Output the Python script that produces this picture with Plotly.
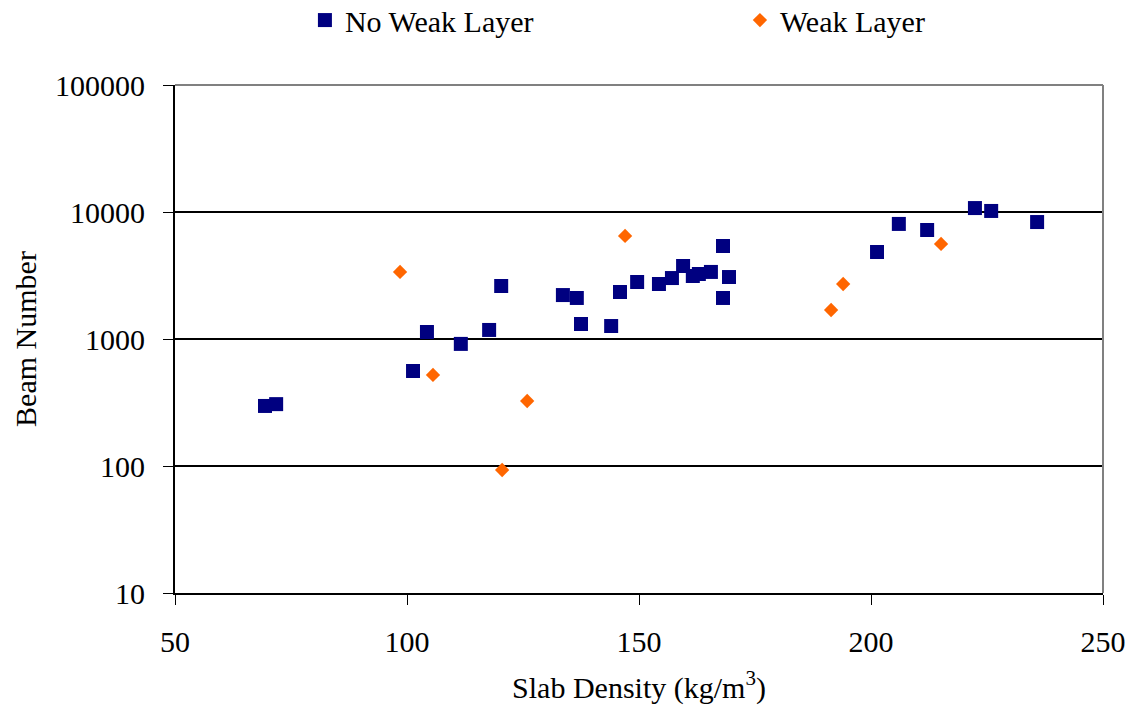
import plotly.graph_objects as go

# No Weak Layer series
nwl_density = [69.4, 71.8, 104.3, 101.3, 111.6, 117.7, 120.3, 133.6, 136.6, 137.5,
               144.0, 145.9, 149.6, 154.3, 157.1, 159.5, 161.6, 162.9, 165.5, 168.1,
               168.1, 169.4, 201.3, 206.0, 212.1, 222.4, 225.9, 235.8]
nwl_beam = [297, 307, 1135, 560, 915, 1178, 2614, 2218, 2104, 1312,
            1265, 2344, 2812, 2711, 3020, 3758, 3133, 3250, 3373, 5398,
            2104, 3076, 4844, 8055, 7218, 10740, 10190, 8336]

# Weak Layer series
wl_density = [98.5, 105.6, 120.5, 125.9, 147.0, 191.4, 194.0, 215.1]
wl_beam = [3377, 521, 93, 325, 6475, 1692, 2711, 5601]

x_ticks = [50, 100, 150, 200, 250]
y_ticks = [10, 100, 1000, 10000, 100000]

FONT = "Liberation Serif"

fig = go.Figure()
fig.add_trace(go.Scatter(
    x=nwl_density, y=nwl_beam, mode="markers", name="No Weak Layer",
    marker=dict(symbol="square", size=14, color="#000080",
                line=dict(width=0)),
))
fig.add_trace(go.Scatter(
    x=wl_density, y=wl_beam, mode="markers", name="Weak Layer",
    marker=dict(symbol="diamond", size=11, color="#FF6600",
                line=dict(width=0)),
))

fig.update_layout(
    width=1139, height=712,
    margin=dict(l=175, r=36, t=85, b=119, autoexpand=False),
    paper_bgcolor="white", plot_bgcolor="white",
    font=dict(family=FONT, size=30, color="black"),
    showlegend=True,
    legend=dict(
        orientation="h", x=0.14, xanchor="left", y=1.179, yanchor="top",
        font=dict(family=FONT, size=30, color="black"),
        entrywidth=390, entrywidthmode="pixels",
        bgcolor="rgba(0,0,0,0)",
    ),
    xaxis=dict(
        range=[50, 250], tickvals=x_ticks, ticks="outside", ticklen=10,
        tickcolor="black", showline=True, linecolor="black", linewidth=2,
        showgrid=False, zeroline=False, ticklabelstandoff=11,
        title=dict(text="Slab Density (kg/m<sup>3</sup>)", standoff=20,
                   font=dict(family=FONT, size=30)),
        tickfont=dict(family=FONT, size=30),
    ),
    yaxis=dict(
        type="log", range=[1, 5], tickvals=y_ticks, tickformat="d",
        ticks="outside", ticklen=10, tickcolor="black",
        showline=True, linecolor="black", linewidth=2,
        showgrid=True, gridcolor="black", gridwidth=2, zeroline=False,
        ticklabelstandoff=12,
        title=dict(text="Beam Number", standoff=10,
                   font=dict(family=FONT, size=30)),
        tickfont=dict(family=FONT, size=30),
    ),
    shapes=[
        dict(type="line", xref="paper", yref="paper", x0=0, x1=1, y0=1, y1=1,
             line=dict(color="#808080", width=2)),
        dict(type="line", xref="paper", yref="paper", x0=1, x1=1, y0=0, y1=1,
             line=dict(color="#808080", width=2)),
    ],
)

fig.write_html("out.html")
